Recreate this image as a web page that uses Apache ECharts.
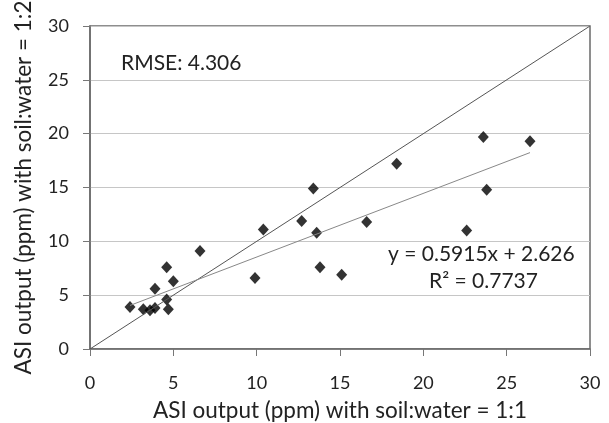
<!DOCTYPE html>
<html>
<head>
<meta charset="utf-8">
<script src="https://cdn.jsdelivr.net/npm/echarts@6/dist/echarts.min.js"></script>
<style>
  html, body { margin: 0; padding: 0; background: #fff; }
  #chart { width: 609px; height: 423px; }
</style>
</head>
<body>
<div id="chart"></div>
<script>
// soil:water 1:1 readings (x) and 1:2 readings (y)
const xValues = [2.4, 3.2, 3.6, 3.9, 3.9, 4.6, 4.6, 4.7, 5.0, 6.6, 9.9, 10.4, 12.7, 13.4, 13.6, 13.8, 15.1, 16.6, 18.4, 22.6, 23.6, 23.8, 26.4];
const yValues = [3.9, 3.7, 3.6, 3.8, 5.6, 7.6, 4.6, 3.7, 6.3, 9.1, 6.6, 11.1, 11.9, 14.9, 10.8, 7.6, 6.9, 11.8, 17.2, 11.0, 19.7, 14.8, 19.3];
const slope = 0.5915;
const intercept = 2.626;
const oneToOne = [[0, 0], [30, 30]];

const points = xValues.map((x, i) => [x, yValues[i]]);
const xMin = Math.min(...xValues);
const xMax = Math.max(...xValues);
const trend = [[xMin, slope * xMin + intercept], [xMax, slope * xMax + intercept]];

const font = 'Lato, "Open Sans", sans-serif';
const chart = echarts.init(document.getElementById('chart'));

chart.setOption({
  backgroundColor: '#fff',
  animation: false,
  textStyle: { fontFamily: font },
  grid: {
    left: 90, right: 19, top: 26, bottom: 74,
    outerBoundsMode: 'none',
    show: true,
    borderColor: '#6a6a6a',
    borderWidth: 1.5
  },
  xAxis: {
    type: 'value', min: 0, max: 30, interval: 5,
    name: 'ASI output (ppm) with soil:water = 1:1',
    nameLocation: 'middle', nameGap: 50,
    nameTextStyle: { color: '#222', fontSize: 22.5, fontFamily: font },
    axisLine: { lineStyle: { color: '#6a6a6a', width: 1.5 } },
    axisTick: { show: true, length: 7, lineStyle: { color: '#777' } },
    axisLabel: { color: '#222', fontSize: 18, margin: 25 },
    splitLine: { show: false }
  },
  yAxis: {
    type: 'value', min: 0, max: 30, interval: 5,
    name: 'ASI output (ppm) with soil:water = 1:2',
    nameLocation: 'middle', nameGap: 55,
    nameTextStyle: { color: '#222', fontSize: 22.5, fontFamily: font },
    axisLine: { show: true, lineStyle: { color: '#6a6a6a', width: 1.5 } },
    axisTick: { show: true, length: 7, lineStyle: { color: '#777' } },
    axisLabel: { color: '#222', fontSize: 18, margin: 21 },
    splitLine: { show: true, lineStyle: { color: '#c6c6c6', width: 1 } }
  },
  series: [
    {
      type: 'line', data: oneToOne, symbol: 'none', silent: true,
      lineStyle: { color: '#555', width: 1 }
    },
    {
      type: 'line', data: trend, symbol: 'none', silent: true,
      lineStyle: { color: '#888', width: 1 }
    },
    {
      type: 'scatter', data: points, symbol: 'diamond', symbolSize: [11, 12],
      itemStyle: { color: '#000' }
    }
  ],
  graphic: [
    {
      type: 'text', left: 121, top: 53,
      style: { text: 'RMSE: 4.306', fill: '#222', font: '21px ' + font }
    },
    {
      type: 'text', left: 388, top: 244,
      style: { text: 'y = 0.5915x + 2.626', fill: '#222', font: '21px ' + font }
    },
    {
      type: 'text', left: 429, top: 271,
      style: { text: 'R² = 0.7737', fill: '#222', font: '21px ' + font }
    }
  ]
});
</script>
</body>
</html>
